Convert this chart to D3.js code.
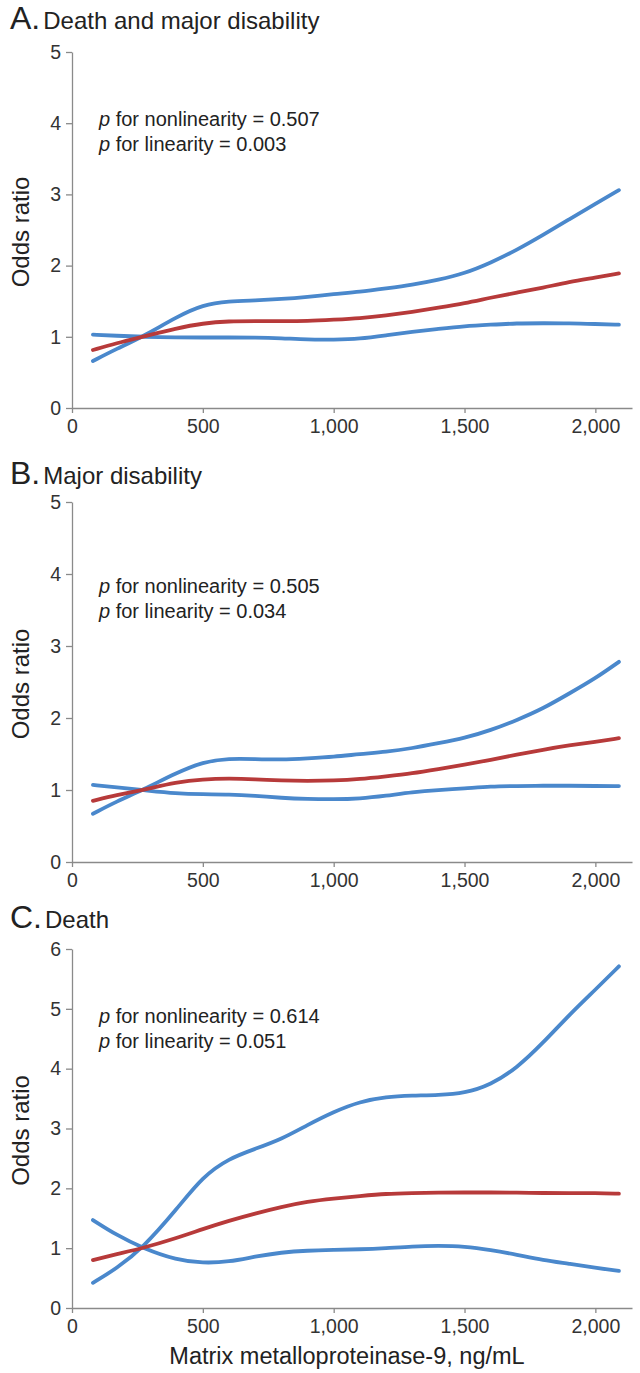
<!DOCTYPE html>
<html>
<head>
<meta charset="utf-8">
<script src="https://cdn.jsdelivr.net/npm/d3@7"></script>
<style>
  body { margin: 0; background: #fff; }
  svg { display: block; font-family: "Liberation Sans", Arial, sans-serif; }
  .tick text { fill: #333; }
</style>
</head>
<body>
<svg id="chart" width="640" height="1373"></svg>
<script>
// MMP-9 levels (ng/mL) at which the spline curves were read
const mmp = [80, 170, 270, 400, 500, 600, 700, 800, 900, 1000, 1100, 1200, 1300, 1400, 1500, 1600, 1700, 1800, 1900, 2000, 2090];

// A. Death and major disability
const aOR    = [0.815, 0.91, 1.0, 1.12, 1.19, 1.22, 1.22, 1.22, 1.22, 1.24, 1.26, 1.30, 1.35, 1.41, 1.47, 1.55, 1.62, 1.69, 1.77, 1.83, 1.89];
const aUpper = [0.66, 0.83, 1.0, 1.28, 1.45, 1.50, 1.51, 1.53, 1.56, 1.60, 1.63, 1.68, 1.73, 1.80, 1.89, 2.04, 2.22, 2.43, 2.65, 2.87, 3.06];
const aLower = [1.03, 1.015, 1.0, 0.99, 0.99, 0.99, 0.99, 0.98, 0.96, 0.96, 0.97, 1.02, 1.07, 1.11, 1.15, 1.17, 1.19, 1.19, 1.19, 1.18, 1.17];

// B. Major disability
const bOR    = [0.85, 0.93, 1.0, 1.11, 1.15, 1.16, 1.15, 1.13, 1.125, 1.13, 1.15, 1.19, 1.23, 1.29, 1.35, 1.42, 1.49, 1.56, 1.62, 1.67, 1.72];
const bUpper = [0.67, 0.84, 1.0, 1.24, 1.39, 1.44, 1.43, 1.42, 1.44, 1.46, 1.50, 1.53, 1.58, 1.65, 1.72, 1.83, 1.97, 2.13, 2.34, 2.55, 2.78];
const bLower = [1.07, 1.035, 1.0, 0.95, 0.94, 0.94, 0.92, 0.89, 0.875, 0.87, 0.88, 0.92, 0.97, 1.00, 1.02, 1.05, 1.055, 1.06, 1.06, 1.055, 1.055];

// C. Death
const cOR    = [0.80, 0.90, 1.0, 1.17, 1.32, 1.46, 1.58, 1.69, 1.78, 1.83, 1.87, 1.91, 1.92, 1.93, 1.93, 1.93, 1.93, 1.92, 1.92, 1.92, 1.91];
const cUpper = [0.42, 0.66, 1.0, 1.65, 2.20, 2.50, 2.66, 2.82, 3.06, 3.28, 3.45, 3.53, 3.55, 3.56, 3.59, 3.73, 4.01, 4.43, 4.90, 5.32, 5.71];
const cLower = [1.47, 1.22, 1.0, 0.80, 0.75, 0.77, 0.86, 0.93, 0.96, 0.97, 0.98, 1.00, 1.03, 1.04, 1.03, 0.97, 0.89, 0.80, 0.74, 0.67, 0.62];

const xTicks = [0, 500, 1000, 1500, 2000];

const panels = [
  {letter: "A.", title: "Death and major disability", yMax: 5, top: 52, bottom: 408, titleY: 29,
   pText: ["0.507", "0.003"], pY: 126, or: aOR, upper: aUpper, lower: aLower},
  {letter: "B.", title: "Major disability", yMax: 5, top: 502, bottom: 862, titleY: 484,
   pText: ["0.505", "0.034"], pY: 593, or: bOR, upper: bUpper, lower: bLower},
  {letter: "C.", title: "Death", yMax: 6, top: 949, bottom: 1308, titleY: 928,
   pText: ["0.614", "0.051"], pY: 1023, or: cOR, upper: cUpper, lower: cLower}
];

const svg = d3.select("#chart");
const axisColor = "#8a8a8a";
const blue = "#4a88cc";
const red = "#b73a3a";

const x = d3.scaleLinear().domain([0, 2140]).range([72, 632]);

panels.forEach(p => {
  const y = d3.scaleLinear().domain([0, p.yMax]).range([p.bottom, p.top]);
  const g = svg.append("g");

  // panel heading
  const head = g.append("text").attr("x", 10).attr("y", p.titleY).attr("fill", "#222");
  head.append("tspan").attr("font-size", 32).text(p.letter);
  head.append("tspan").attr("font-size", 24).attr("dx", 3).text(p.title);

  // axes
  const yAxis = g.append("g")
      .attr("transform", "translate(" + x(0) + ",0)")
      .call(d3.axisLeft(y).ticks(p.yMax).tickSize(6).tickSizeOuter(0).tickPadding(5));
  const xAxis = g.append("g")
      .attr("transform", "translate(0," + p.bottom + ")")
      .call(d3.axisBottom(x).tickValues(xTicks).tickFormat(d3.format(",")).tickSize(5).tickSizeOuter(0).tickPadding(6));
  [yAxis, xAxis].forEach(a => {
    a.select(".domain").attr("stroke", axisColor).attr("stroke-width", 1.3);
    a.selectAll(".tick line").attr("stroke", axisColor).attr("stroke-width", 1.3);
    a.selectAll(".tick text").attr("font-size", 19.5).attr("font-family", "Liberation Sans, Arial, sans-serif");
  });

  // y axis label
  g.append("text")
    .attr("transform", "translate(29," + ((p.top + p.bottom) / 2 + 2) + ") rotate(-90)")
    .attr("text-anchor", "middle")
    .attr("font-size", 24)
    .attr("fill", "#222")
    .text("Odds ratio");

  // p values
  const labels = ["for nonlinearity = ", "for linearity = "];
  labels.forEach((lab, i) => {
    const t = g.append("text").attr("x", 99).attr("y", p.pY + i * 24.5)
      .attr("font-size", 20).attr("fill", "#222");
    t.append("tspan").attr("font-style", "italic").text("p");
    t.append("tspan").text(" " + lab + p.pText[i]);
  });

  // curves
  const line = d3.line()
    .x((d, i) => x(mmp[i]))
    .y(d => y(d))
    .curve(d3.curveBasis);
  [[p.lower, blue], [p.upper, blue], [p.or, red]].forEach(([vals, col]) => {
    g.append("path")
      .attr("d", line(vals))
      .attr("fill", "none")
      .attr("stroke", col)
      .attr("stroke-width", 3.8)
      .attr("stroke-linecap", "round");
  });
});

// x axis title
svg.append("text")
  .attr("x", 347)
  .attr("y", 1364)
  .attr("text-anchor", "middle")
  .attr("font-size", 23.5)
  .attr("fill", "#222")
  .text("Matrix metalloproteinase-9, ng/mL");
</script>
</body>
</html>
